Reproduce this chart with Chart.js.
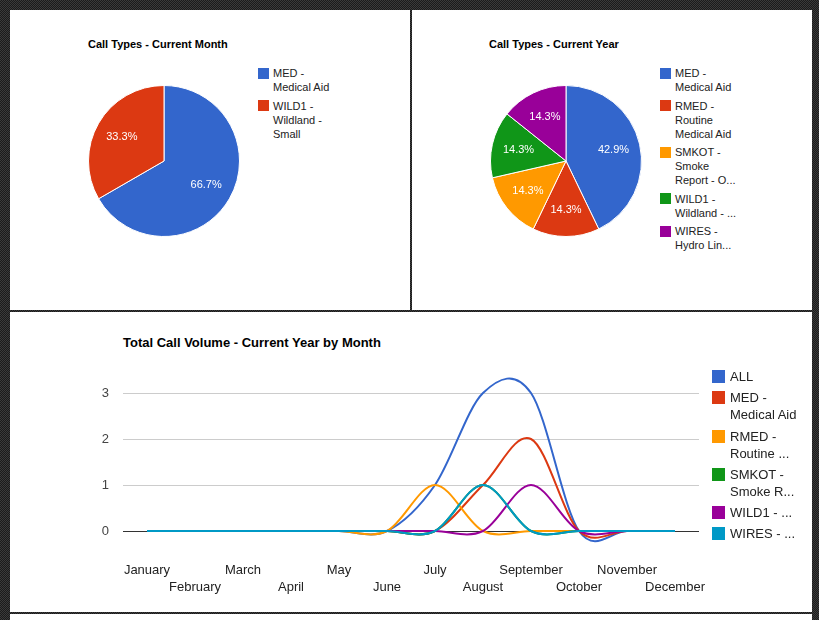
<!DOCTYPE html>
<html><head><meta charset="utf-8">
<script src="https://cdn.jsdelivr.net/npm/chart.js@4"></script>
<style>
html,body{margin:0;padding:0;}
body{width:819px;height:620px;position:relative;overflow:hidden;
background-color:#2a2a2a;
background-image:repeating-conic-gradient(#1b1b1b 0% 25%, #3a3a3a 0% 50%);
background-size:2px 2px;
font-family:"Liberation Sans",Arial,sans-serif;}
.panel{position:absolute;background:#fff;}
.title{position:absolute;font-weight:bold;color:#000;white-space:nowrap;}
.legend{position:absolute;color:#222;white-space:nowrap;}
.item{position:relative;}
.sw{position:absolute;left:0;}
canvas{position:absolute;}
</style></head>
<body>
<div class="panel" style="left:10px;top:10px;width:400px;height:300px;" id="p1">
  <div class="title" style="left:78px;top:27.5px;font-size:11px;line-height:13px;">Call Types - Current Month</div>
  <canvas id="c1" width="160" height="160" style="left:74px;top:71px;"></canvas>
  <div class="legend" id="l1" style="left:248px;top:56px;"></div>
</div>
<div class="panel" style="left:412px;top:10px;width:400px;height:300px;" id="p2">
  <div class="title" style="left:77px;top:27.5px;font-size:11px;line-height:13px;">Call Types - Current Year</div>
  <canvas id="c2" width="160" height="160" style="left:74px;top:71px;"></canvas>
  <div class="legend" id="l2" style="left:248px;top:56px;"></div>
</div>
<div class="panel" style="left:10px;top:312px;width:802px;height:300px;" id="p3">
  <div class="title" style="left:113px;top:22.5px;font-size:13px;line-height:15px;">Total Call Volume - Current Year by Month</div>
  <canvas id="c3" width="802" height="300" style="left:0;top:0;"></canvas>
  <div class="legend" id="l3" style="left:702px;top:56px;"></div>
</div>
<div class="panel" style="left:10px;top:614px;width:802px;height:6px;"></div>
<script>
// ---- Data ----
const monthCategories = ['MED - Medical Aid', 'WILD1 - Wildland - Small'];
const monthValues = [2, 1];
const monthColors = ['#3366cc', '#dc3912'];
const monthLegend = [['MED -', 'Medical Aid'], ['WILD1 -', 'Wildland -', 'Small']];

const yearCategories = ['MED - Medical Aid', 'RMED - Routine Medical Aid', 'SMKOT - Smoke Report', 'WILD1 - Wildland', 'WIRES - Hydro Lines'];
const yearValues = [3, 1, 1, 1, 1];
const yearColors = ['#3366cc', '#dc3912', '#ff9900', '#109618', '#990099'];
const yearLegend = [['MED -', 'Medical Aid'], ['RMED -', 'Routine', 'Medical Aid'], ['SMKOT -', 'Smoke', 'Report - O...'], ['WILD1 -', 'Wildland - ...'], ['WIRES -', 'Hydro Lin...']];

const months = ['January', 'February', 'March', 'April', 'May', 'June', 'July', 'August', 'September', 'October', 'November', 'December'];
const seriesNames = ['ALL', 'MED', 'RMED', 'SMKOT', 'WILD1', 'WIRES'];
const allValues   = [0, 0, 0, 0, 0, 0, 1, 3, 3, 0, 0, 0];
const medValues   = [0, 0, 0, 0, 0, 0, 0, 1, 2, 0, 0, 0];
const rmedValues  = [0, 0, 0, 0, 0, 0, 1, 0, 0, 0, 0, 0];
const smkotValues = [0, 0, 0, 0, 0, 0, 0, 1, 0, 0, 0, 0];
const wild1Values = [0, 0, 0, 0, 0, 0, 0, 0, 1, 0, 0, 0];
const wiresValues = [0, 0, 0, 0, 0, 0, 0, 1, 0, 0, 0, 0];
const lineColors = ['#3366cc', '#dc3912', '#ff9900', '#109618', '#990099', '#0099c6'];
const lineLegend = [['ALL'], ['MED -', 'Medical Aid'], ['RMED -', 'Routine ...'], ['SMKOT -', 'Smoke R...'], ['WILD1 - ...'], ['WIRES - ...']];
const yTicks = [0, 1, 2, 3];

const FONT = '"Liberation Sans", Arial, sans-serif';

// ---- HTML legends ----
function buildLegend(el, items, colors, fs, lh, sq, textX, gap) {
  items.forEach((lines, i) => {
    const it = document.createElement('div');
    it.className = 'item';
    it.style.fontSize = fs + 'px';
    it.style.lineHeight = lh + 'px';
    it.style.paddingLeft = textX + 'px';
    if (i < items.length - 1) it.style.marginBottom = gap + 'px';
    const sw = document.createElement('div');
    sw.className = 'sw';
    sw.style.width = sq + 'px'; sw.style.height = sq + 'px';
    sw.style.top = ((lh - sq) / 2) + 'px';
    sw.style.background = colors[i];
    it.appendChild(sw);
    lines.forEach(t => { const d = document.createElement('div'); d.textContent = t; it.appendChild(d); });
    el.appendChild(it);
  });
}
buildLegend(document.getElementById('l1'), monthLegend, monthColors, 11, 14, 11, 15, 4.7);
buildLegend(document.getElementById('l2'), yearLegend, yearColors, 11, 14, 11, 15, 4.5);
buildLegend(document.getElementById('l3'), lineLegend, lineColors, 13, 17, 13, 18, 4.3);

// ---- Pie label plugin ----
const pieLabels = {
  id: 'pieLabels',
  afterDatasetsDraw(chart) {
    const ctx = chart.ctx;
    const ds = chart.data.datasets[0];
    const total = ds.data.reduce((a, b) => a + b, 0);
    chart.getDatasetMeta(0).data.forEach((arc, i) => {
      const p = arc.getProps(['x', 'y', 'startAngle', 'endAngle', 'outerRadius'], true);
      const mid = (p.startAngle + p.endAngle) / 2;
      const r = p.outerRadius * 0.645;
      ctx.save();
      ctx.fillStyle = '#fff';
      ctx.font = '11px ' + FONT;
      ctx.textAlign = 'center';
      ctx.textBaseline = 'middle';
      ctx.fillText((ds.data[i] / total * 100).toFixed(1) + '%', p.x + Math.cos(mid) * r, p.y + Math.sin(mid) * r);
      ctx.restore();
    });
  }
};

function pie(id, labels, values, colors) {
  new Chart(document.getElementById(id), {
    type: 'pie',
    data: { labels: labels, datasets: [{ data: values, backgroundColor: colors, borderColor: '#fff', borderWidth: 1, hoverOffset: 0 }] },
    options: {
      responsive: false, animation: false,
      layout: { padding: 4 },
      plugins: { legend: { display: false }, tooltip: { enabled: false } }
    },
    plugins: [pieLabels]
  });
}
pie('c1', monthCategories, monthValues, monthColors);
pie('c2', yearCategories, yearValues, yearColors);

// ---- Uniform Catmull-Rom smoothing of the library's own points (like Google "function" curves) ----
const catmullRom = {
  id: 'catmullRom',
  beforeDatasetDraw(chart, args) {
    const meta = args.meta;
    const line = meta.dataset;
    if (!line) return;
    const pts = meta.data;
    const n = pts.length;
    const f = 1 / 6;
    for (let i = 0; i < n; i++) {
      const p = pts[i], a = pts[Math.max(i - 1, 0)], b = pts[Math.min(i + 1, n - 1)];
      const dx = b.x - a.x, dy = b.y - a.y;
      p.cp1x = p.x - f * dx; p.cp1y = p.y - f * dy;
      p.cp2x = p.x + f * dx; p.cp2y = p.y + f * dy;
    }
    line._pointsUpdated = true;
    line._path = undefined;
  }
};

// ---- Line chart ----
const seriesValues = [allValues, medValues, rmedValues, smkotValues, wild1Values, wiresValues];
new Chart(document.getElementById('c3'), {
  type: 'line',
  data: {
    labels: months,
    datasets: seriesNames.map((n, i) => ({
      label: n, data: seriesValues[i], borderColor: lineColors[i], backgroundColor: lineColors[i],
      borderWidth: 2, pointRadius: 0, tension: 0.4, fill: false, order: seriesNames.length - 1 - i
    }))
  },
  options: {
    responsive: false, animation: false,
    layout: { padding: { left: 0, right: 113, top: 58, bottom: 8 } },
    plugins: { legend: { display: false }, tooltip: { enabled: false } },
    scales: {
      x: {
        type: 'category', offset: true,
        grid: { display: false, drawTicks: false }, border: { display: false },
        ticks: {
          autoSkip: false, maxRotation: 0, minRotation: 0, padding: 8, color: '#222',
          font: { size: 13, lineHeight: 1.3, family: FONT },
          callback: function (v, i) { const l = this.getLabelForValue(v); return i % 2 === 0 ? [l] : ['', l]; }
        },
        afterFit(s) { s.height = 50; }
      },
      y: {
        min: -0.5, max: 3.5,
        afterBuildTicks(s) { s.ticks = yTicks.map(v => ({ value: v })); },
        grid: { drawTicks: false, color: (c) => (c.tick && c.tick.value === 0) ? '#333' : '#ccc' },
        border: { display: false },
        ticks: { padding: 14, color: '#444', font: { size: 13, family: FONT } },
        afterFit(s) { s.width = 113; }
      }
    }
  },
  plugins: [catmullRom]
});
</script>
</body></html>
